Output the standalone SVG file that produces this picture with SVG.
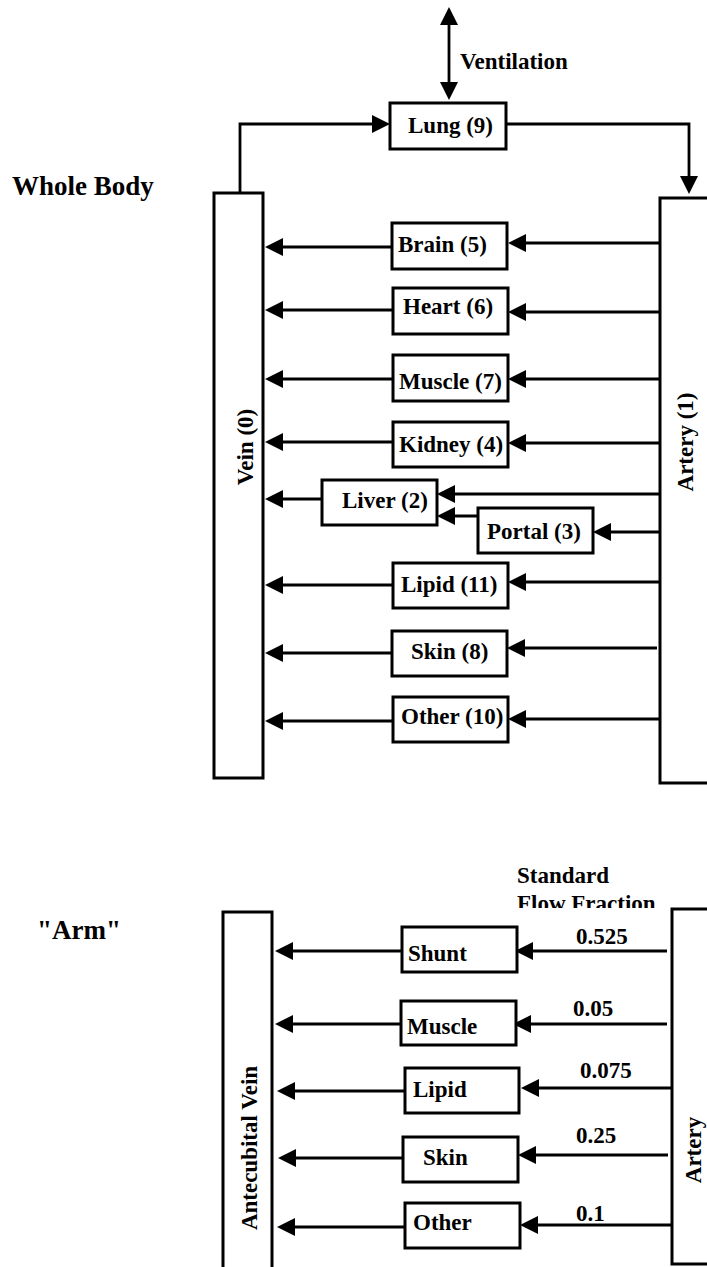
<svg xmlns="http://www.w3.org/2000/svg" width="707" height="1267" viewBox="0 0 707 1267">
<style>
.box{fill:#fff;stroke:#000;stroke-width:3}
.t{font-family:"Liberation Serif","Times New Roman",serif;font-weight:bold;font-size:23px;fill:#000}
.big{font-size:27px}
.c{fill:none;stroke:#000;stroke-width:2.8}
</style>
<defs>
<marker id="ah" markerUnits="userSpaceOnUse" markerWidth="18" markerHeight="18" refX="10" refY="9" orient="auto-start-reverse" viewBox="0 0 18 18">
<path d="M0,0 L18,9 L0,18 z" fill="#000"/>
</marker>
<clipPath id="clipFF"><rect x="0" y="0" width="707" height="908"/></clipPath>
</defs>
<rect width="707" height="1267" fill="#fff"/>

<text class="t big" x="12" y="195">Whole Body</text>
<text class="t big" x="37" y="939">"Arm"</text>
<text class="t" x="460" y="69">Ventilation</text>
<text class="t" x="517" y="883">Standard</text>
<text class="t" x="517" y="911" clip-path="url(#clipFF)">Flow Fraction</text>

<g id="connectors">
<line class="c" x1="449" y1="15" x2="449" y2="92" marker-start="url(#ah)" marker-end="url(#ah)"/>
<path class="c" d="M240,193 V124 H382" marker-end="url(#ah)"/>
<path class="c" d="M506,124 H689 V186" marker-end="url(#ah)"/>
<line class="c" x1="392" y1="247" x2="273" y2="247" marker-end="url(#ah)"/>
<line class="c" x1="393" y1="310" x2="273" y2="310" marker-end="url(#ah)"/>
<line class="c" x1="393" y1="379" x2="273" y2="379" marker-end="url(#ah)"/>
<line class="c" x1="393" y1="442" x2="273" y2="442" marker-end="url(#ah)"/>
<line class="c" x1="322" y1="499" x2="273" y2="499" marker-end="url(#ah)"/>
<line class="c" x1="393" y1="585" x2="273" y2="585" marker-end="url(#ah)"/>
<line class="c" x1="392" y1="653" x2="273" y2="653" marker-end="url(#ah)"/>
<line class="c" x1="393" y1="721" x2="273" y2="721" marker-end="url(#ah)"/>
<line class="c" x1="660" y1="243" x2="516" y2="243" marker-end="url(#ah)"/>
<line class="c" x1="660" y1="312" x2="516" y2="312" marker-end="url(#ah)"/>
<line class="c" x1="660" y1="379" x2="516" y2="379" marker-end="url(#ah)"/>
<line class="c" x1="660" y1="443" x2="516" y2="443" marker-end="url(#ah)"/>
<line class="c" x1="660" y1="494" x2="445" y2="494" marker-end="url(#ah)"/>
<line class="c" x1="478" y1="516" x2="445" y2="516" marker-end="url(#ah)"/>
<line class="c" x1="660" y1="532" x2="601" y2="532" marker-end="url(#ah)"/>
<line class="c" x1="660" y1="582" x2="516" y2="582" marker-end="url(#ah)"/>
<line class="c" x1="657" y1="648" x2="515" y2="648" marker-end="url(#ah)"/>
<line class="c" x1="660" y1="719" x2="516" y2="719" marker-end="url(#ah)"/>
<line class="c" x1="402" y1="951" x2="283" y2="951" marker-end="url(#ah)"/>
<line class="c" x1="401" y1="1024" x2="283" y2="1024" marker-end="url(#ah)"/>
<line class="c" x1="405" y1="1091" x2="285" y2="1091" marker-end="url(#ah)"/>
<line class="c" x1="403" y1="1158" x2="286" y2="1158" marker-end="url(#ah)"/>
<line class="c" x1="405" y1="1227" x2="285" y2="1227" marker-end="url(#ah)"/>
<line class="c" x1="667" y1="951" x2="523" y2="951" marker-end="url(#ah)"/>
<line class="c" x1="667" y1="1024" x2="521" y2="1024" marker-end="url(#ah)"/>
<line class="c" x1="672" y1="1088" x2="529" y2="1088" marker-end="url(#ah)"/>
<line class="c" x1="668" y1="1155" x2="526" y2="1155" marker-end="url(#ah)"/>
<line class="c" x1="672" y1="1225" x2="528" y2="1225" marker-end="url(#ah)"/>
<text class="t" x="576" y="944">0.525</text>
<text class="t" x="573" y="1016">0.05</text>
<text class="t" x="580" y="1078">0.075</text>
<text class="t" x="576" y="1143">0.25</text>
<text class="t" x="576" y="1221">0.1</text>
</g>

<g id="lung"><rect class="box" x="390" y="103" width="116" height="46"/><text class="t" x="408" y="133">Lung (9)</text></g>
<g id="vein"><rect class="box" x="214" y="193" width="49" height="585"/><text class="t" text-anchor="middle" transform="translate(253,447) rotate(-90)">Vein (0)</text></g>
<g id="artery"><rect class="box" x="660" y="198" width="60" height="585"/><text class="t" text-anchor="middle" transform="translate(693,442) rotate(-90)">Artery (1)</text></g>
<g id="brain"><rect class="box" x="392" y="223" width="115" height="46"/><text class="t" x="398" y="252">Brain (5)</text></g>
<g id="heart"><rect class="box" x="393" y="288" width="115" height="46"/><text class="t" x="403" y="314">Heart (6)</text></g>
<g id="muscle"><rect class="box" x="393" y="355" width="115" height="46"/><text class="t" x="399" y="389">Muscle (7)</text></g>
<g id="kidney"><rect class="box" x="393" y="422" width="115" height="45"/><text class="t" x="399" y="452">Kidney (4)</text></g>
<g id="liver"><rect class="box" x="322" y="480" width="115" height="45"/><text class="t" x="342" y="508">Liver (2)</text></g>
<g id="portal"><rect class="box" x="478" y="508" width="115" height="45"/><text class="t" x="487" y="539">Portal (3)</text></g>
<g id="lipid"><rect class="box" x="393" y="563" width="115" height="45"/><text class="t" x="401" y="592">Lipid (11)</text></g>
<g id="skin"><rect class="box" x="392" y="631" width="115" height="45"/><text class="t" x="411" y="659">Skin (8)</text></g>
<g id="other"><rect class="box" x="393" y="697" width="115" height="45"/><text class="t" x="401" y="724">Other (10)</text></g>

<g id="arm-vein"><rect class="box" x="223" y="912" width="49" height="400"/><text class="t" text-anchor="middle" transform="translate(257,1148) rotate(-90)">Antecubital Vein</text></g>
<g id="arm-artery"><rect class="box" x="672" y="909" width="60" height="355"/><text class="t" text-anchor="middle" transform="translate(701,1150) rotate(-90)">Artery</text></g>
<g id="arm-shunt"><rect class="box" x="402" y="927" width="115" height="45"/><text class="t" x="408" y="961">Shunt</text></g>
<g id="arm-muscle"><rect class="box" x="401" y="1001" width="115" height="44"/><text class="t" x="407" y="1034">Muscle</text></g>
<g id="arm-lipid"><rect class="box" x="405" y="1068" width="114" height="45"/><text class="t" x="413" y="1097">Lipid</text></g>
<g id="arm-skin"><rect class="box" x="403" y="1137" width="115" height="45"/><text class="t" x="423" y="1165">Skin</text></g>
<g id="arm-other"><rect class="box" x="405" y="1203" width="115" height="45"/><text class="t" x="413" y="1230">Other</text></g>
</svg>
